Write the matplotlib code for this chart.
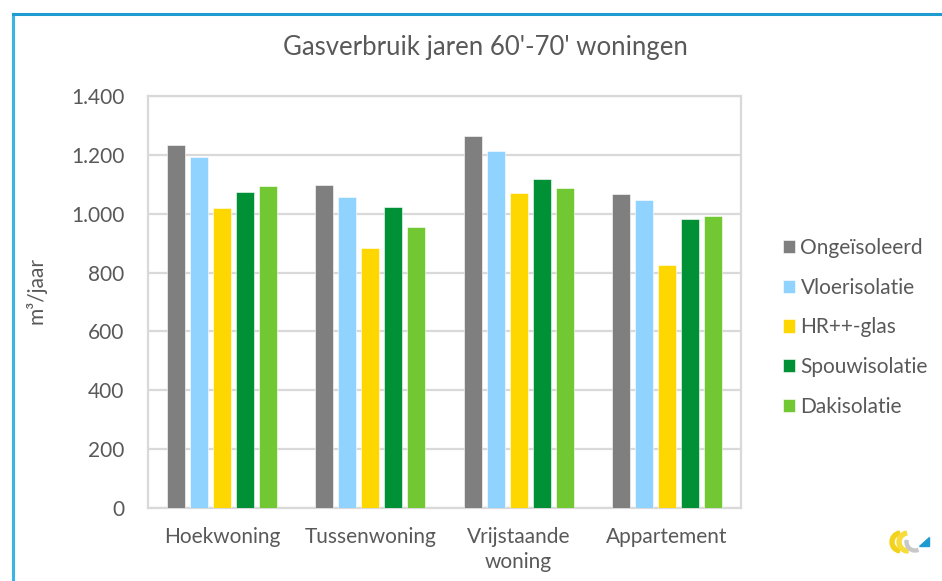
import matplotlib
matplotlib.use("Agg")
import matplotlib.pyplot as plt
import numpy as np
from matplotlib.patches import Rectangle, Wedge, Polygon

categories = ["Hoekwoning", "Tussenwoning", "Vrijstaande\nwoning", "Appartement"]
series_names = ["Ongeïsoleerd", "Vloerisolatie", "HR++-glas", "Spouwisolatie", "Dakisolatie"]
ongeisoleerd = [1232, 1097, 1265, 1066]
vloerisolatie = [1192, 1056, 1214, 1047]
hr_glas = [1020, 884, 1070, 827]
spouwisolatie = [1073, 1024, 1117, 982]
dakisolatie = [1093, 955, 1086, 993]
yticks = [0, 200, 400, 600, 800, 1000, 1200, 1400]
ytick_labels = ["0", "200", "400", "600", "800", "1.000", "1.200", "1.400"]

series = [ongeisoleerd, vloerisolatie, hr_glas, spouwisolatie, dakisolatie]
colors = ["#7F7F7F", "#8FD3FE", "#FFD700", "#009035", "#72C833"]
text_color = "#595959"
font = "Lato"

W, H = 942, 581
fig = plt.figure(figsize=(W / 100, H / 100), dpi=100)
fig.patch.set_facecolor("white")

# outer blue frame (left and top)
fig.add_artist(plt.Line2D([12.5 / W, 12.5 / W], [0, 1 - 13.5 / H], color="#3AB4E2", lw=2.2,
                          transform=fig.transFigure))
fig.add_artist(plt.Line2D([12.5 / W, 1], [1 - 13.5 / H, 1 - 13.5 / H], color="#1E9BD0", lw=2.2,
                          transform=fig.transFigure))

left, right, top, bottom = 148, 741, 96, 508
ax = fig.add_axes([left / W, (H - bottom) / H, (right - left) / W, (bottom - top) / H])

x = np.arange(len(categories))
bw = 0.121
pitch = 0.155
handles = []
for i, (vals, c) in enumerate(zip(series, colors)):
    b = ax.bar(x + (i - 2) * pitch, vals, width=bw, color=c, edgecolor="white", linewidth=0.4,
               zorder=3, label=series_names[i])
    handles.append(b)

ax.set_xlim(-0.5, len(categories) - 0.5)
ax.set_ylim(0, 1400)
ax.set_yticks(yticks)
ax.set_yticklabels(ytick_labels, fontsize=15, color=text_color, family=font)
ax.set_xticks(x)
ax.set_xticklabels(categories, fontsize=15, color=text_color, family=font, linespacing=1.3)
ax.tick_params(axis="y", length=0, pad=17)
ax.tick_params(axis="x", length=0, pad=14)
ax.grid(axis="y", color="#D9D9D9", lw=1.6, zorder=0)
for s in ax.spines.values():
    s.set_color("#D9D9D9")
    s.set_linewidth(1.6)

fig.text(36 / W, 1 - 290 / H, "m³/jaar", rotation=90, ha="center", va="center",
         fontsize=15, color=text_color, family=font)

fig.text(485 / W, 1 - 47 / H, "Gasverbruik jaren 60'-70' woningen", ha="center", va="center",
         fontsize=18.5, color=text_color, family=font)

leg = fig.legend(handles=handles, labels=series_names, loc="upper left",
                 bbox_to_anchor=(764 / W, 1 - 219 / H), frameon=False,
                 prop={"family": font, "size": 15}, labelcolor=text_color,
                 handlelength=0.6, handleheight=0.6, handletextpad=0.25, labelspacing=0.95)

# small logo bottom right
lax = fig.add_axes([885 / W, 1 - 560 / H, 50 / W, 36 / H])
lax.set_xlim(0, 50)
lax.set_ylim(0, 36)
lax.axis("off")
lax.add_patch(Wedge((16, 18), 11, 100, 260, width=4, color="#F2D21B"))
lax.add_patch(Wedge((23, 18), 11, 100, 270, width=4, color="#F7DC3A"))
lax.add_patch(Wedge((30, 18), 10, 170, 290, width=3, color="#C8C8C8"))
lax.add_patch(Polygon([[34, 14], [44, 14], [44, 23]], color="#1E9BD0"))

fig.savefig("out.png", dpi=100)
